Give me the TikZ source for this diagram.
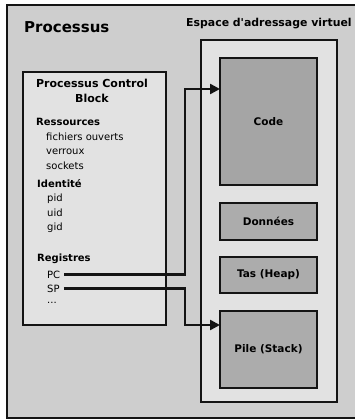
\documentclass[tikz,border=0pt]{standalone}
\usepackage{fontspec}
\setmainfont{DejaVu Sans}
\usepackage{tikz}
\usetikzlibrary{positioning, arrows.meta}
\definecolor{PRBack}{RGB}{206,206,206}
\definecolor{PRLight}{RGB}{226,226,226}
\definecolor{PRSeg}{RGB}{172,172,172}
\definecolor{PRInk}{RGB}{20,20,20}

\begin{document}
\begin{tikzpicture}[x=1pt, y=-1pt,
          zone/.style={rectangle, draw=PRInk, line width=2.4pt, inner sep=0pt,
                       outer sep=0pt, fill=PRLight},
          seg/.style={zone, fill=PRSeg, minimum width=97pt,
                      font=\fontsize{10.5}{12}\selectfont\bfseries},
          hdr/.style={anchor=west, inner sep=0pt, font=\fontsize{10}{12}\selectfont\bfseries},
          itm/.style={anchor=west, inner sep=0pt, font=\fontsize{10}{12}\selectfont},
          arr/.style={-{Triangle[length=10pt, width=10pt]}, draw=PRInk,
                      line width=2.4pt}
        ]
        \useasboundingbox (0,0) rectangle (354,420);
        % Processus
        \node[zone, fill=PRBack, line width=2pt, minimum width=360pt,
              minimum height=413pt] (proc) at (187,211.5) {};
        \node[anchor=west, inner sep=0pt,
              font=\fontsize{15}{18}\selectfont\bfseries] (tproc) at (24,27)
              {Processus};

        % Processus Control Block
        \node[zone, minimum width=143pt, minimum height=253pt]
              (pcb) at (94.5,198.5) {};
        \node[align=center, inner sep=0pt,
              font=\fontsize{11}{15}\selectfont\bfseries] (tpcb) at (92,90.5)
              {Processus Control\\Block};
        \node[hdr] (res) at (36,122) {Ressources};
        \node[itm] (fich) at (46,137) {fichiers ouverts};
        \node[itm] (verr) at (46,151.5) {verroux};
        \node[itm] (sock) at (46,166) {sockets};
        \node[hdr] (ident) at (37,184) {Identité};
        \node[itm] (pid) at (47,198.5) {pid};
        \node[itm] (uid) at (47,213) {uid};
        \node[itm] (gid) at (47,227.5) {gid};
        \node[hdr] (regs) at (37,258.5) {Registres};
        \node[itm] (pc) at (47,274.5) {PC};
        \node[itm] (sp) at (47,288.5) {SP};
        \node[itm] (etc) at (47,303) {...};

        % Espace d'adressage virtuel
        \node[anchor=west, inner sep=0pt,
              font=\fontsize{10.9}{13}\selectfont\bfseries] (tvirt) at (186,24)
              {Espace d\textquotesingle adressage virtuel};
        \node[zone, minimum width=136pt, minimum height=362pt]
              (virt) at (269,221) {};
        \node[seg, fill=PRSeg!85!gray, minimum height=127pt]
              (code) at (268.5,121.5) {Code};
        \node[seg, minimum height=37pt] (data) at (268.5,221.5) {Données};
        \node[seg, minimum height=36pt] (heap) at (268.5,275) {Tas (Heap)};
        \node[seg, minimum height=77pt] (stack) at (268.5,349.5) {Pile (Stack)};

        % Registres vers segments
        \coordinate (bend) at (181,0);
        \coordinate (codein) at ([yshift=-31pt]code.north west);
        \coordinate (stackin) at ([yshift=-14pt]stack.north west);
        \draw[arr] ([xshift=4pt]pc.east) -- ([xshift=4pt]pc.east -| bend)
              |- (codein);
        \draw[arr] ([xshift=4pt]sp.east) -- ([xshift=4pt]sp.east -| bend)
              |- (stackin);
      \end{tikzpicture}
\end{document}
